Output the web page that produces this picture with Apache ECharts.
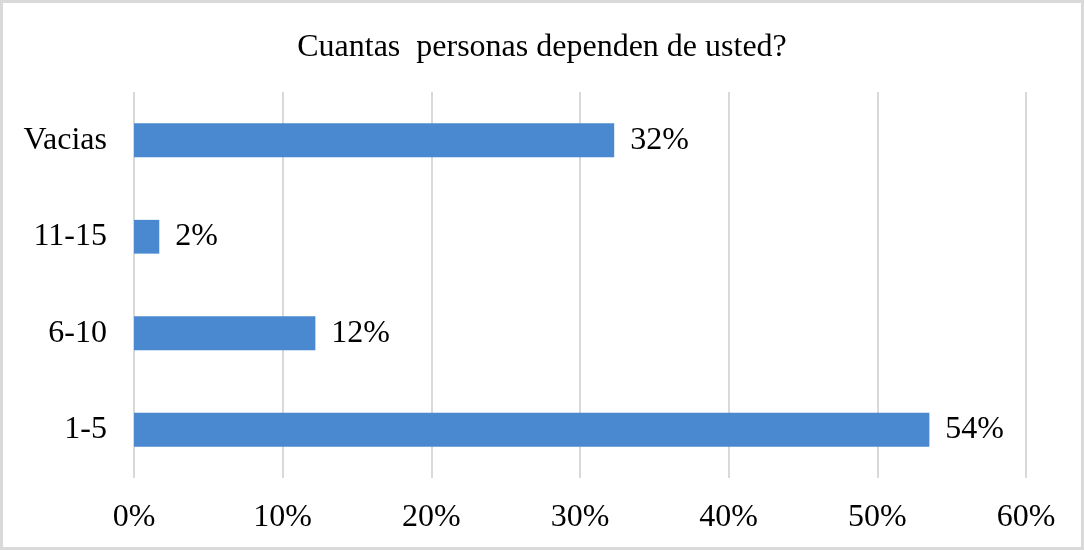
<!DOCTYPE html>
<html>
<head>
<meta charset="utf-8">
<script src="https://cdn.jsdelivr.net/npm/echarts@6/dist/echarts.min.js"></script>
<style>
  html, body { margin: 0; padding: 0; background: #fff; }
  #chart { width: 1084px; height: 550px; box-sizing: border-box; border: 3px solid #d9d9d9; }
</style>
</head>
<body>
<div id="chart"></div>
<script>
// categorias de abajo hacia arriba
const categorias = ['1-5', '6-10', '11-15', 'Vacias']
const valores = [53.5, 12.2, 1.7, 32.3] // porcentaje
const ticksX = [0, 10, 20, 30, 40, 50, 60]

const fuente = '"Liberation Serif", "Times New Roman", serif'
let myChart = echarts.init(document.getElementById('chart'))
myChart.setOption({
  title: {
    text: 'Cuantas  personas dependen de usted?',
    left: 'center',
    top: 24,
    textStyle: { fontFamily: fuente, fontSize: 32, fontWeight: 'normal', color: '#000' }
  },
  grid: { left: 131, right: 55, top: 89, bottom: 69 },
  xAxis: {
    type: 'value',
    min: ticksX[0],
    max: ticksX[ticksX.length - 1],
    interval: 10,
    axisLine: { show: false },
    axisTick: { show: false },
    splitLine: { lineStyle: { color: '#d9d9d9', width: 2 } },
    axisLabel: {
      margin: 24,
      fontFamily: fuente,
      fontSize: 32,
      color: '#000',
      formatter: function (v) { return v + '%' }
    }
  },
  yAxis: {
    type: 'category',
    data: categorias,
    axisLine: { show: false },
    axisTick: { show: false },
    axisLabel: { margin: 27, fontFamily: fuente, fontSize: 32, color: '#000' }
  },
  series: [{
    type: 'bar',
    data: valores,
    barWidth: '35%',
    itemStyle: { color: '#4a89cf' },
    label: {
      show: true,
      position: 'right',
      distance: 16,
      fontFamily: fuente,
      fontSize: 32,
      color: '#000',
      formatter: function (p) { return Math.round(p.value) + '%' }
    }
  }]
})
</script>
</body>
</html>
